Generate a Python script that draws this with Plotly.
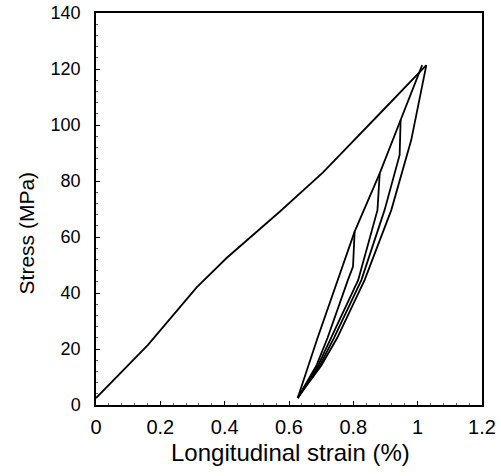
import plotly.graph_objects as go

# Monotonic loading curve
mono_strain = [0.0, 0.161, 0.313, 0.406, 0.571, 0.705, 0.89, 1.027]
mono_stress = [2.5, 21.4, 42.0, 52.5, 69.0, 83.0, 105.0, 121.4]

# Reloading line (shared by all cycles) through the cycle peaks
reload_strain = [0.627, 0.689, 0.804, 0.882, 0.947, 1.014]
reload_stress = [2.5, 24.0, 61.9, 82.7, 101.8, 121.4]

# Unloading branches, one per cycle
unload1_strain = [0.804, 0.799, 0.783, 0.72, 0.685, 0.649, 0.627]
unload1_stress = [61.9, 49.4, 44.6, 24.0, 14.0, 7.0, 2.5]

unload2_strain = [0.882, 0.875, 0.815, 0.73, 0.69, 0.651, 0.627]
unload2_stress = [82.7, 69.6, 44.6, 24.0, 14.0, 7.0, 2.5]

unload3_strain = [0.947, 0.944, 0.897, 0.825, 0.74, 0.695, 0.653, 0.627]
unload3_stress = [101.8, 89.3, 69.6, 44.6, 24.0, 14.0, 7.0, 2.5]

unload4_strain = [1.027, 0.998, 0.98, 0.918, 0.835, 0.75, 0.70, 0.655, 0.627]
unload4_stress = [121.4, 104.0, 94.6, 69.6, 44.6, 24.0, 14.0, 7.0, 2.5]

x_ticks = [0, 0.2, 0.4, 0.6, 0.8, 1.0, 1.2]
x_tick_labels = ["0", "0.2", "0.4", "0.6", "0.8", "1", "1.2"]
y_ticks = [0, 20, 40, 60, 80, 100, 120, 140]
y_tick_labels = ["0", "20", "40", "60", "80", "100", "120", "140"]

x_title = "Longitudinal strain (%)"
y_title = "Stress (MPa)"

series = [
    (mono_strain, mono_stress),
    (reload_strain, reload_stress),
    (unload1_strain, unload1_stress),
    (unload2_strain, unload2_stress),
    (unload3_strain, unload3_stress),
    (unload4_strain, unload4_stress),
]

fig = go.Figure()
for xs, ys in series:
    fig.add_trace(go.Scatter(x=xs, y=ys, mode="lines",
                             line=dict(color="black", width=1.8),
                             showlegend=False, hoverinfo="skip", cliponaxis=False))

font_family = "Liberation Sans, Arial, sans-serif"

fig.update_layout(
    width=501, height=476,
    margin=dict(l=96, r=19, t=13, b=71, autoexpand=False),
    paper_bgcolor="white", plot_bgcolor="white",
    font=dict(family=font_family, color="black"),
)

fig.update_xaxes(
    range=[0, 1.2], tickmode="array", tickvals=x_ticks, ticktext=x_tick_labels,
    automargin=False, ticklabeloverflow="allow",
    showgrid=False, zeroline=False,
    showline=True, linecolor="black", linewidth=1.5, mirror=True,
    ticks="inside", ticklen=4, tickcolor="black",
    minor=dict(ticks="inside", ticklen=2, dtick=0.04, tickcolor="#666"),
    tickfont=dict(size=20), ticklabelstandoff=3,
)
fig.update_yaxes(
    range=[0, 140], tickmode="array", tickvals=y_ticks, ticktext=y_tick_labels,
    automargin=False, ticklabeloverflow="allow",
    showgrid=False, zeroline=False,
    showline=True, linecolor="black", linewidth=1.5, mirror=True,
    ticks="inside", ticklen=4, tickcolor="black",
    minor=dict(ticks="inside", ticklen=2, dtick=4, tickcolor="#666"),
    tickfont=dict(size=18), ticklabelstandoff=10,
)

fig.add_annotation(text=x_title, xref="paper", yref="paper", x=0.503, y=0,
                   xanchor="center", yanchor="middle", yshift=-47,
                   showarrow=False, font=dict(size=24))
fig.add_annotation(text=y_title, xref="paper", yref="paper", x=0, y=0.439,
                   xanchor="center", yanchor="middle", xshift=-69.5,
                   textangle=-90, showarrow=False, font=dict(size=21))

fig.write_html(
    "out.html",
    config={"displayModeBar": False},
    post_script="document.body.style.margin='0';document.body.style.overflow='hidden';",
)
